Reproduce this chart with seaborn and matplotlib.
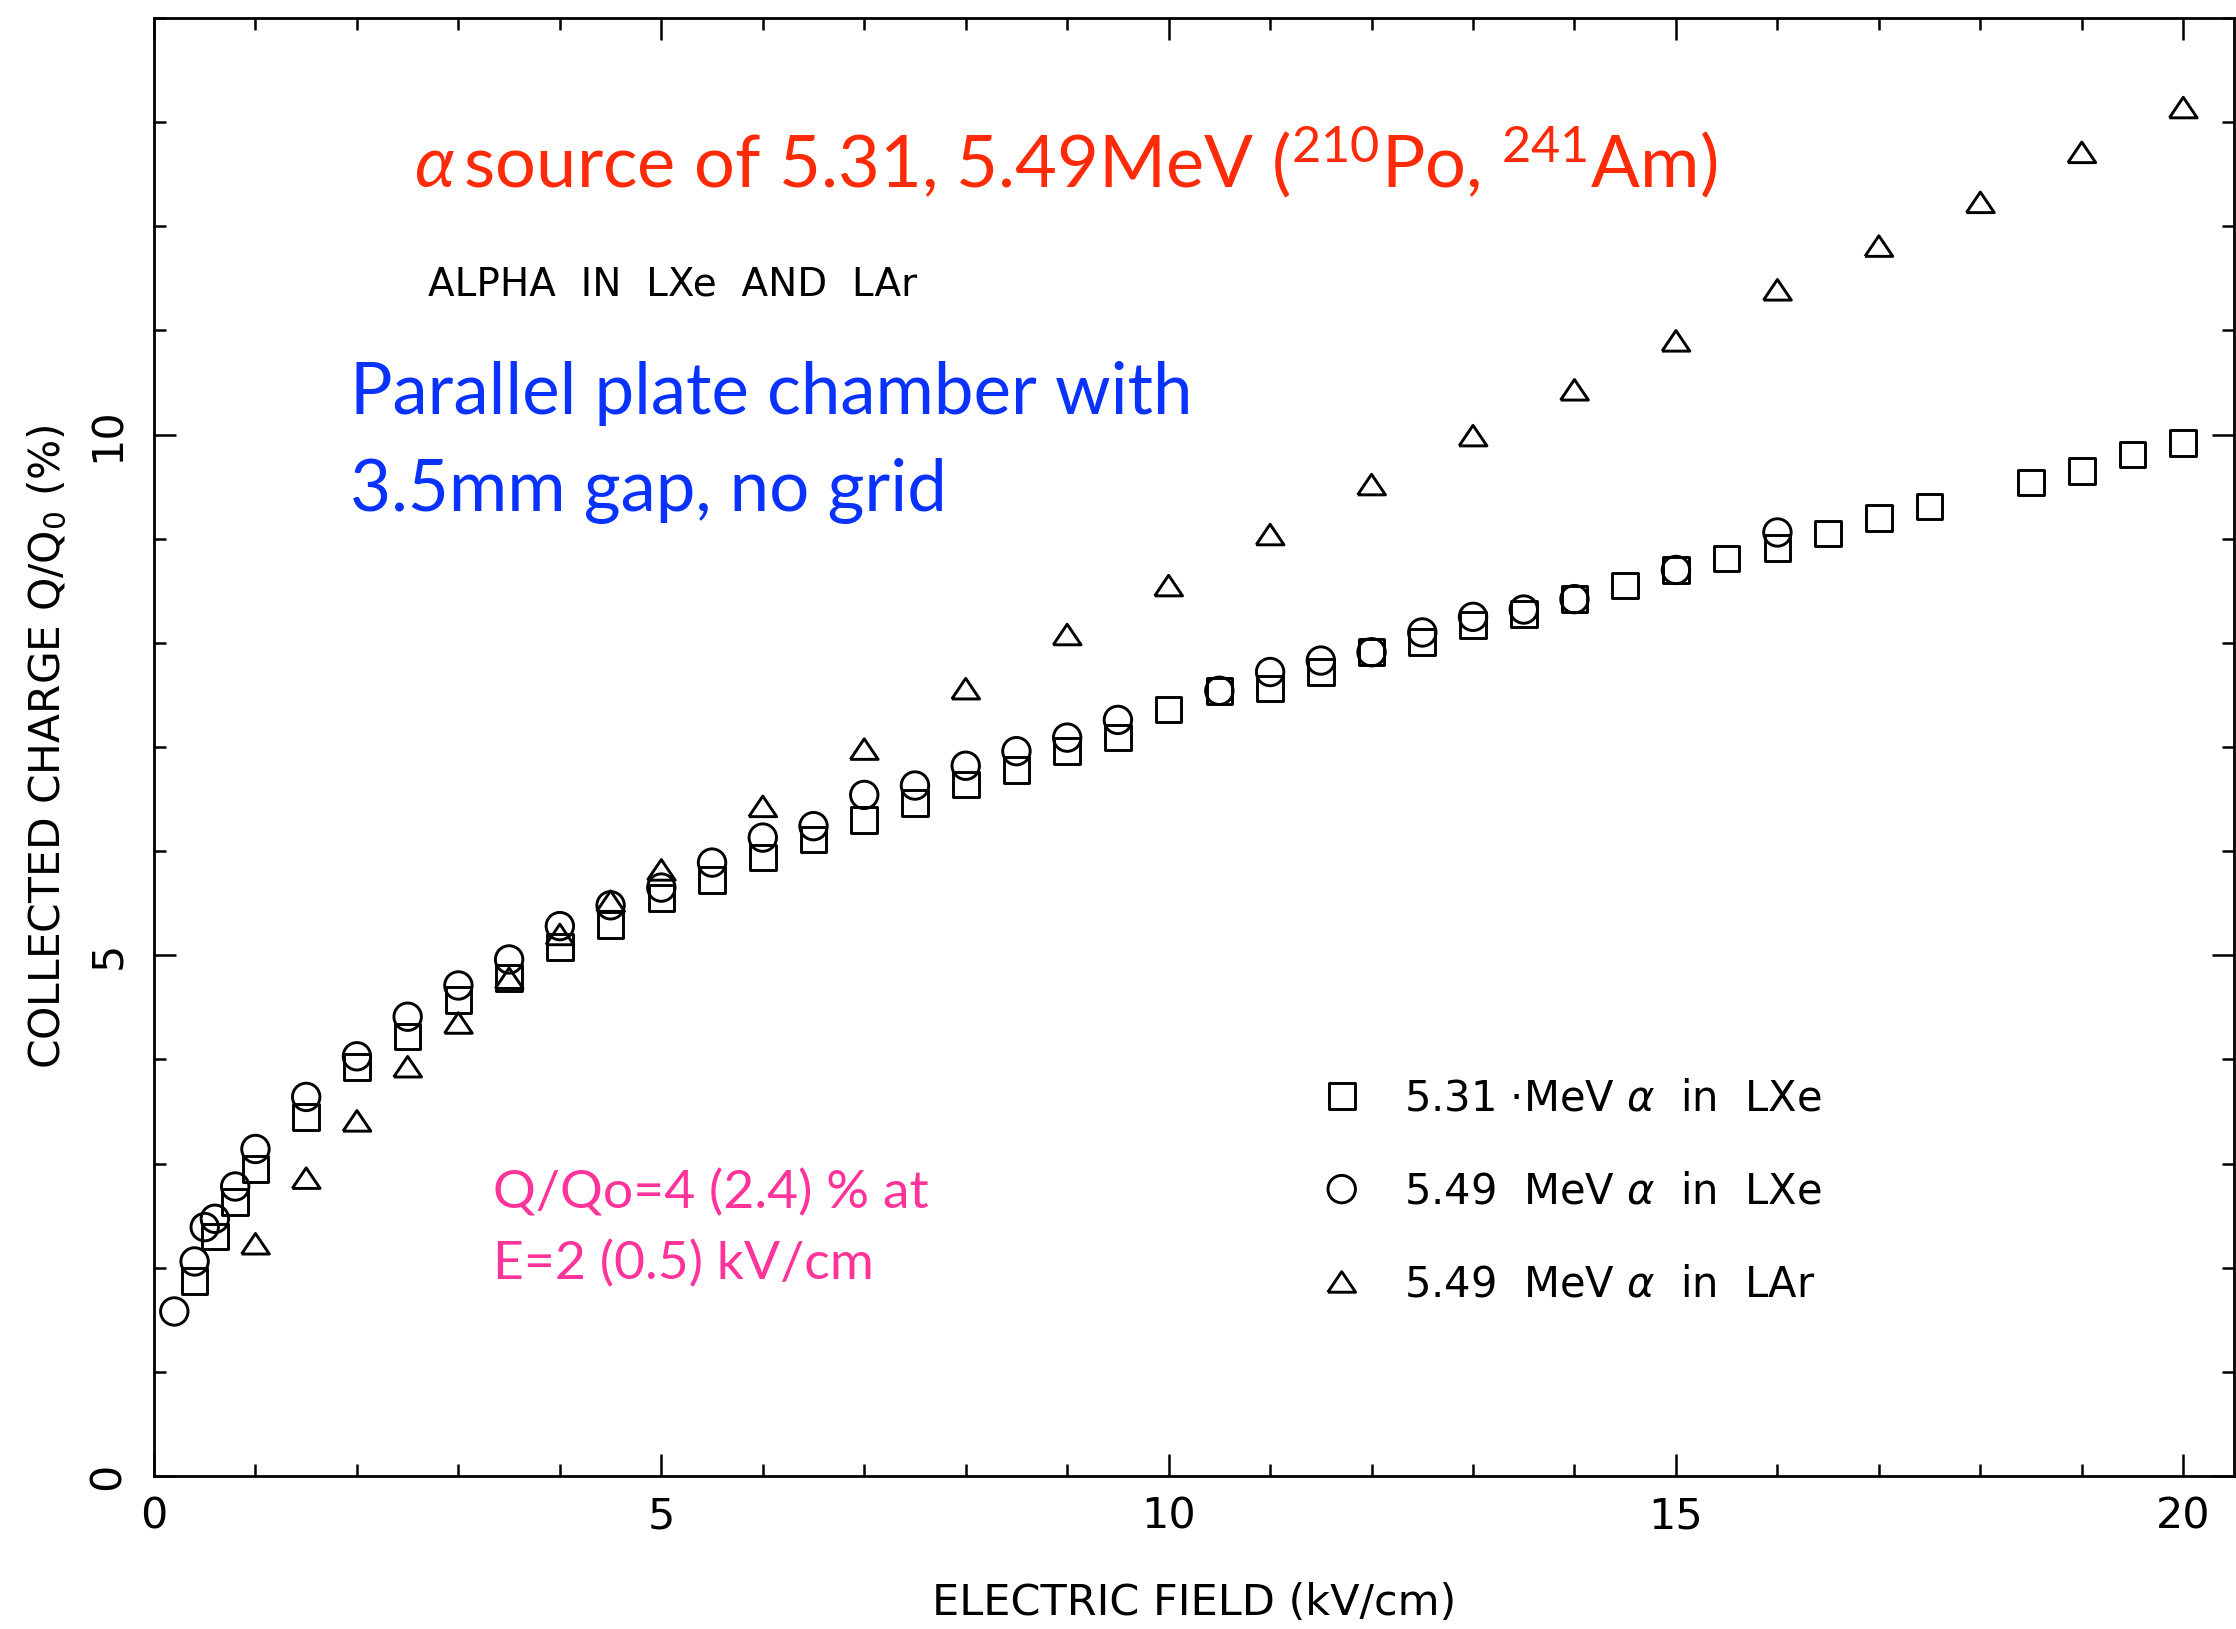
import numpy as np
import pandas as pd
import matplotlib
matplotlib.use("Agg")
import matplotlib.pyplot as plt
from matplotlib.ticker import MultipleLocator
import seaborn as sns

# ---------------- data ----------------
sq_x = [0.4, 0.6, 0.8, 1.0, 1.5, 2.0, 2.5, 3.0, 3.5, 4.0, 4.5, 5.0, 5.5, 6.0, 6.5,
        7.0, 7.5, 8.0, 8.5, 9.0, 9.5, 10.0, 10.5, 11.0, 11.5, 12.0, 12.5, 13.0,
        13.5, 14.0, 14.5, 15.0, 15.5, 16.0, 16.5, 17.0, 17.5, 18.5, 19.0, 19.5, 20.0]
sq_y = [1.87, 2.30, 2.63, 2.95, 3.45, 3.93, 4.22, 4.57, 4.78, 5.08, 5.29, 5.55, 5.72,
        5.94, 6.11, 6.30, 6.46, 6.64, 6.78, 6.96, 7.09, 7.36, 7.54, 7.56, 7.72, 7.91,
        8.01, 8.17, 8.28, 8.42, 8.55, 8.70, 8.81, 8.91, 9.05, 9.20, 9.31, 9.54, 9.65,
        9.81, 9.92]

ci_x = [0.2, 0.4, 0.5, 0.6, 0.8, 1.0, 1.5, 2.0, 2.5, 3.0, 3.5, 4.0, 4.5, 5.0, 5.5,
        6.0, 6.5, 7.0, 7.5, 8.0, 8.5, 9.0, 9.5, 10.5, 11.0, 11.5, 12.0, 12.5, 13.0,
        13.5, 14.0, 15.0, 16.0]
ci_y = [1.58, 2.06, 2.39, 2.47, 2.78, 3.14, 3.64, 4.03, 4.41, 4.71, 4.96, 5.28, 5.48,
        5.65, 5.89, 6.13, 6.24, 6.54, 6.63, 6.82, 6.96, 7.09, 7.26, 7.54, 7.72, 7.83,
        7.91, 8.10, 8.25, 8.32, 8.42, 8.70, 9.06]

tr_x = [1.0, 1.5, 2.0, 2.5, 3.0, 3.5, 4.0, 4.5, 5.0, 6.0, 7.0, 8.0, 9.0, 10.0, 11.0,
        12.0, 13.0, 14.0, 15.0, 16.0, 17.0, 18.0, 19.0, 20.0]
tr_y = [2.23, 2.86, 3.41, 3.93, 4.35, 4.78, 5.20, 5.52, 5.82, 6.43, 6.98, 7.56, 8.08,
        8.55, 9.04, 9.52, 9.99, 10.43, 10.90, 11.39, 11.81, 12.23, 12.71, 13.14]

series_labels = ["5.31 ·MeV $\\alpha$  in  LXe",
                 "5.49  MeV $\\alpha$  in  LXe",
                 "5.49  MeV $\\alpha$  in  LAr"]

x_ticks = [0, 5, 10, 15, 20]
y_ticks = [0, 5, 10]

# ---------------- style ----------------
sns.set_theme(style="white")
plt.rcParams['font.family'] = ['DejaVu Sans']
plt.rcParams['mathtext.fontset'] = 'custom'
plt.rcParams['mathtext.rm'] = 'Lato'
plt.rcParams['mathtext.it'] = 'Lato:italic'
plt.rcParams['mathtext.bf'] = 'Lato:bold'

W, H = 2236, 1629
fig = plt.figure(figsize=(W / 100, H / 100), dpi=100)
fig.patch.set_facecolor("white")
L, R, T, B = 154, 2234, 18, 1476
ax = fig.add_axes([L / W, 1 - B / H, (R - L) / W, (B - T) / H])
ax.set_facecolor("white")

tri = [(-1.0, -0.74), (1.0, -0.74), (0.0, 0.74), (-1.0, -0.74)]

sns.scatterplot(x=sq_x, y=sq_y, marker="s", s=340, facecolor="none",
                edgecolor="black", linewidth=2.1, label=series_labels[0], ax=ax)
sns.scatterplot(x=ci_x, y=ci_y, marker="o", s=390, facecolor="none",
                edgecolor="black", linewidth=2.1, label=series_labels[1], ax=ax)
sns.scatterplot(x=tr_x, y=tr_y, marker=tri, s=400, facecolor="none",
                edgecolor="black", linewidth=2.1, label=series_labels[2], ax=ax)

ax.set_xlim(0, 20.5)
ax.set_ylim(0, 14)
ax.set_xticks(x_ticks)
ax.set_yticks(y_ticks)
ax.xaxis.set_minor_locator(MultipleLocator(1))
ax.yaxis.set_minor_locator(MultipleLocator(1))

for sp in ax.spines.values():
    sp.set_visible(True)
    sp.set_color("black")
    sp.set_linewidth(2.0)

ax.tick_params(which="both", direction="in", top=True, right=True,
               bottom=True, left=True, width=1.8, color="black",
               labelcolor="black")
ax.tick_params(which="major", length=16)
ax.tick_params(which="minor", length=8.5)
ax.tick_params(axis="x", which="major", labelsize=31, pad=14)
ax.tick_params(axis="y", which="major", labelsize=31, pad=18, labelrotation=90)
for lab in ax.get_yticklabels():
    lab.set_va("center")

ax.set_xlabel("ELECTRIC FIELD (kV/cm)", fontsize=31, labelpad=32, color="black")
yl = ax.set_ylabel("COLLECTED CHARGE Q/Q$_0$ (%)", fontsize=30.5, labelpad=13,
                   color="black")
yl.set_math_fontfamily("dejavusans")

# legend
leg = ax.legend(loc="center left", bbox_to_anchor=(0.561, 0.195), frameon=False,
                fontsize=30, handlelength=1.0, handletextpad=1.0,
                labelspacing=1.22, borderpad=0, borderaxespad=0,
                scatterpoints=1, scatteryoffsets=[0.5])
for t in leg.get_texts():
    t.set_math_fontfamily("dejavusans")
    t.set_color("black")

# annotations
def axpos(px, py):
    return (px - L) / (R - L), (B - py) / (B - T)

x0, y0 = axpos(414, 188)
ax.text(x0, y0, r"$\alpha\,$source of 5.31, 5.49MeV ($^{210}$Po, $^{241}$Am)",
        transform=ax.transAxes, fontsize=52, color="#ff2a08",
        family="Lato", va="baseline", ha="left")

x0, y0 = axpos(428, 296)
ax.text(x0, y0, "ALPHA  IN  LXe  AND  LAr", transform=ax.transAxes, fontsize=28,
        color="black", va="baseline", ha="left")

x0, y0 = axpos(350, 414)
ax.text(x0, y0, "Parallel plate chamber with", transform=ax.transAxes,
        fontsize=51, color="#0a32ff", family="Lato", va="baseline", ha="left")
x0, y0 = axpos(350, 511)
ax.text(x0, y0, "3.5mm gap, no grid", transform=ax.transAxes,
        fontsize=51, color="#0a32ff", family="Lato", va="baseline", ha="left")

x0, y0 = axpos(493, 1208)
ax.text(x0, y0, "Q/Qo=4 (2.4) % at", transform=ax.transAxes,
        fontsize=38.5, color="#ff3399", family="Lato", va="baseline", ha="left")
x0, y0 = axpos(493, 1279)
ax.text(x0, y0, "E=2 (0.5) kV/cm", transform=ax.transAxes,
        fontsize=38.5, color="#ff3399", family="Lato", va="baseline", ha="left")

fig.savefig("out.png", dpi=100, facecolor="white")
